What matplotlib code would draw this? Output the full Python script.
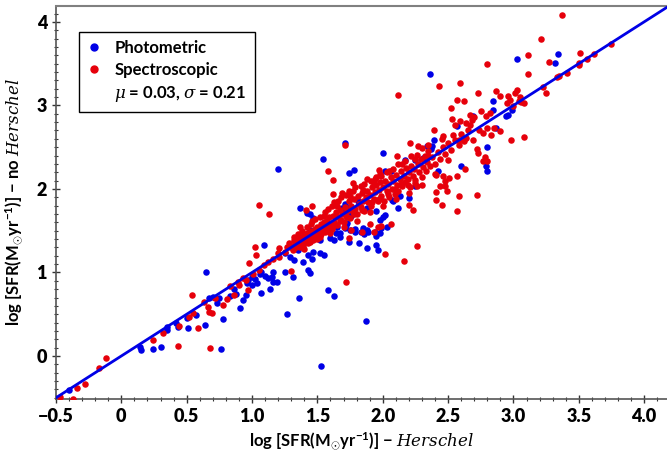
import matplotlib
matplotlib.use("Agg")
import matplotlib.pyplot as plt
from matplotlib.lines import Line2D
from matplotlib.ticker import MultipleLocator

# photometric redshifts (blue)
phot = [(-0.40, -0.41), (0.14, 0.11), (0.15, 0.07), (0.24, 0.08), (0.30, 0.11),
        (0.35, 0.35), (0.35, 0.31), (0.42, 0.39), (0.43, 0.35), (0.50, 0.45),
        (0.51, 0.33), (0.57, 0.49), (0.64, 0.37), (0.65, 1.01), (0.67, 0.69),
        (0.70, 0.71), (0.73, 0.63), (0.75, 0.69), (0.78, 0.44), (0.76, 0.08),
        (0.83, 0.72), (0.86, 0.80), (0.88, 0.74), (0.91, 0.57), (0.93, 0.67),
        (0.95, 0.73), (0.96, 0.87), (0.97, 0.91), (1.00, 0.94), (1.00, 0.85),
        (1.02, 0.92), (1.04, 0.87), (1.06, 0.98), (1.07, 1.01), (1.07, 0.76),
        (1.09, 1.33), (1.10, 0.96), (1.12, 0.93), (1.14, 0.80), (1.15, 0.94),
        (1.16, 0.89), (1.16, 1.00), (1.19, 0.89), (1.20, 2.24), (1.25, 1.01),
        (1.25, 1.23), (1.27, 0.50), (1.29, 1.19), (1.31, 0.95), (1.32, 1.15),
        (1.35, 1.27), (1.36, 0.70), (1.37, 1.77), (1.39, 1.12), (1.42, 1.71),
        (1.43, 1.03), (1.43, 1.21), (1.44, 0.99), (1.44, 1.51), (1.44, 1.70),
        (1.46, 1.16), (1.47, 1.25), (1.47, 1.65), (1.48, 1.43), (1.52, 1.23),
        (1.52, 1.39), (1.53, -0.12), (1.54, 2.36), (1.55, 1.21), (1.58, 0.79),
        (1.60, 1.41), (1.63, 0.72), (1.63, 1.39), (1.64, 1.47), (1.65, 1.55),
        (1.67, 1.43), (1.67, 1.47), (1.69, 1.77), (1.70, 1.75), (1.71, 2.55),
        (1.71, 1.53), (1.71, 1.82), (1.72, 1.57), (1.72, 1.78), (1.73, 1.59),
        (1.74, 1.36), (1.74, 2.19), (1.75, 1.51), (1.75, 1.73), (1.76, 1.67),
        (1.78, 2.23), (1.79, 1.48), (1.79, 1.52), (1.81, 1.85), (1.82, 1.35),
        (1.83, 1.49), (1.85, 1.53), (1.86, 1.46), (1.87, 0.42), (1.88, 1.29),
        (1.88, 1.51), (1.88, 1.77), (1.89, 1.49), (1.94, 1.48), (1.95, 1.74),
        (1.95, 1.44), (1.95, 1.33), (1.96, 1.27), (1.98, 1.47), (1.98, 1.63),
        (1.99, 1.53), (2.00, 2.43), (2.00, 1.66), (2.02, 2.21), (2.02, 1.69),
        (2.03, 1.55), (2.06, 2.21), (2.07, 1.87), (2.08, 1.85), (2.12, 1.77),
        (2.13, 1.91), (2.17, 2.35), (2.20, 1.89), (2.25, 2.35), (2.25, 2.04),
        (2.31, 2.37), (2.34, 2.51), (2.36, 3.38), (2.37, 2.48), (2.38, 2.51),
        (2.39, 2.59), (2.42, 2.21), (2.57, 2.75), (2.60, 2.28), (2.69, 2.87),
        (2.79, 2.28), (2.80, 2.21), (2.80, 2.50), (2.84, 3.05), (2.84, 2.95),
        (2.87, 2.73), (2.94, 2.87), (2.96, 2.89), (2.99, 2.95), (3.03, 3.56),
        (3.32, 3.51), (3.34, 3.62)]

# spectroscopic redshifts (red)
spec = [(-0.47, -0.49), (-0.37, -0.51), (-0.34, -0.38), (-0.28, -0.33), (-0.17, -0.14),
        (-0.12, -0.02), (0.24, 0.19), (0.32, 0.27), (0.43, 0.12), (0.44, 0.36),
        (0.52, 0.47), (0.55, 0.51), (0.54, 0.73), (0.59, 0.34), (0.63, 0.65),
        (0.66, 0.59), (0.67, 0.53), (0.69, 0.51), (0.68, 0.10), (0.72, 0.69),
        (0.78, 0.61), (0.81, 0.68), (0.83, 0.84), (0.86, 0.73), (0.89, 0.89),
        (0.90, 0.85), (0.93, 0.93), (0.95, 0.91), (0.97, 0.79), (0.98, 1.11),
        (1.01, 0.98), (1.02, 1.30), (1.03, 1.21), (1.05, 1.81), (1.05, 1.03),
        (1.09, 1.09), (1.12, 1.13), (1.13, 1.70), (1.16, 1.16), (1.20, 1.23),
        (1.21, 1.19), (1.21, 1.29), (1.25, 1.25), (1.27, 1.31), (1.28, 1.35),
        (1.29, 1.31), (1.30, 1.02), (1.32, 1.39), (1.37, 1.55), (1.41, 1.75),
        (1.46, 1.79), (1.58, 2.21), (1.62, 1.94), (1.62, 2.11), (1.69, 1.95),
        (1.71, 2.53), (1.72, 0.89), (1.74, 1.97), (1.74, 1.41), (1.76, 1.51),
        (1.77, 2.07), (1.84, 1.49), (1.88, 2.12), (1.90, 1.58), (1.93, 2.07),
        (1.93, 1.49), (1.96, 1.55), (1.97, 2.23), (1.99, 2.15), (1.99, 1.56),
        (2.02, 1.22), (2.06, 1.58), (2.11, 2.39), (2.12, 3.13), (2.16, 1.14),
        (2.20, 1.81), (2.21, 2.55), (2.23, 1.75), (2.25, 2.07), (2.26, 1.32),
        (2.26, 2.04), (2.26, 2.41), (2.27, 2.51), (2.30, 2.49), (2.35, 2.39),
        (2.39, 2.71), (2.41, 1.96), (2.41, 1.87), (2.41, 2.17), (2.43, 3.23),
        (2.44, 2.04), (2.45, 1.81), (2.46, 2.15), (2.46, 2.63), (2.48, 2.03),
        (2.48, 2.09), (2.49, 1.97), (2.51, 2.13), (2.52, 2.97), (2.53, 2.84),
        (2.54, 2.65), (2.55, 2.76), (2.57, 2.16), (2.57, 3.07), (2.57, 1.73),
        (2.58, 1.91), (2.58, 2.59), (2.59, 2.81), (2.59, 3.27), (2.62, 3.05),
        (2.63, 2.24), (2.64, 2.79), (2.64, 2.61), (2.67, 2.76), (2.67, 2.89),
        (2.68, 2.83), (2.69, 2.58), (2.70, 2.86), (2.72, 2.48), (2.72, 1.93),
        (2.73, 2.43), (2.73, 3.15), (2.74, 2.71), (2.75, 2.93), (2.77, 2.67),
        (2.77, 2.33), (2.78, 2.38), (2.79, 2.87), (2.80, 2.33), (2.80, 2.73),
        (2.80, 3.50), (2.82, 2.91), (2.83, 2.65), (2.85, 2.73), (2.87, 3.17),
        (2.90, 3.11), (2.90, 2.69), (2.95, 3.03), (2.96, 3.11), (2.97, 3.07),
        (2.98, 2.58), (3.00, 2.99), (3.01, 3.15), (3.03, 3.18), (3.04, 3.05),
        (3.05, 3.10), (3.06, 3.04), (3.08, 2.62), (3.08, 3.03), (3.11, 3.37),
        (3.11, 3.60), (3.21, 3.80), (3.23, 3.22), (3.25, 3.15), (3.27, 3.52),
        (3.33, 3.34), (3.35, 3.35), (3.37, 4.08), (3.41, 3.39), (3.50, 3.51),
        (3.50, 3.48), (3.51, 3.63), (3.56, 3.55), (3.62, 3.62), (3.75, 3.73),
        # dense part of the relation
        (1.30, 1.32), (1.31, 1.27), (1.33, 1.36), (1.34, 1.30), (1.35, 1.33),
        (1.36, 1.40), (1.37, 1.31), (1.38, 1.37), (1.39, 1.44), (1.40, 1.36),
        (1.41, 1.40), (1.42, 1.47), (1.43, 1.35), (1.44, 1.42), (1.45, 1.50),
        (1.46, 1.44), (1.47, 1.39), (1.48, 1.52), (1.49, 1.46), (1.50, 1.55),
        (1.51, 1.48), (1.52, 1.43), (1.53, 1.58), (1.54, 1.52), (1.55, 1.60),
        (1.56, 1.49), (1.57, 1.62), (1.58, 1.55), (1.59, 1.66), (1.60, 1.58),
        (1.61, 1.52), (1.62, 1.68), (1.63, 1.61), (1.64, 1.72), (1.65, 1.57),
        (1.66, 1.66), (1.67, 1.75), (1.68, 1.63), (1.69, 1.70), (1.70, 1.60),
        (1.71, 1.78), (1.72, 1.68), (1.73, 1.74), (1.74, 1.85), (1.75, 1.65),
        (1.76, 1.80), (1.77, 1.72), (1.78, 1.88), (1.79, 1.76), (1.80, 1.70),
        (1.81, 1.92), (1.82, 1.82), (1.83, 1.78), (1.84, 1.95), (1.85, 1.86),
        (1.86, 1.74), (1.87, 1.90), (1.88, 1.98), (1.89, 1.84), (1.90, 1.93),
        (1.91, 1.80), (1.92, 2.02), (1.93, 1.88), (1.94, 1.96), (1.95, 2.05),
        (1.96, 1.86), (1.97, 1.99), (1.98, 2.08), (1.99, 1.92), (2.00, 2.02),
        (2.01, 1.85), (2.02, 2.10), (2.03, 1.97), (2.04, 2.06), (2.05, 1.90),
        (2.06, 2.14), (2.07, 2.00), (2.08, 2.09), (2.09, 1.94), (2.10, 2.17),
        (2.11, 2.05), (2.12, 1.98), (2.13, 2.12), (2.14, 2.22), (2.15, 2.03),
        (2.16, 2.15), (2.17, 2.08), (2.18, 2.25), (2.19, 2.12), (2.20, 2.20),
        (2.21, 2.02), (2.22, 2.28), (2.23, 2.16), (2.24, 2.24), (2.25, 2.11),
        (2.27, 2.30), (2.28, 2.20), (2.29, 2.36), (2.30, 2.14), (2.31, 2.26),
        (2.32, 2.40), (2.33, 2.22), (2.34, 2.32), (2.35, 2.45), (2.36, 2.28),
        (2.38, 2.38), (2.40, 2.30), (2.42, 2.44), (2.44, 2.36), (2.46, 2.50),
        (2.48, 2.42), (2.50, 2.55), (2.52, 2.47), (2.55, 2.58), (2.58, 2.52),
        (2.60, 2.66), (2.62, 2.57), (2.65, 2.70),
        (1.35, 1.46), (1.40, 1.28), (1.45, 1.58), (1.50, 1.40), (1.55, 1.68),
        (1.60, 1.47), (1.65, 1.80), (1.70, 1.54), (1.75, 1.92), (1.80, 1.62),
        (1.85, 1.99), (1.90, 1.72), (1.95, 2.14), (2.00, 1.80), (2.05, 2.22),
        (2.10, 1.88), (2.15, 2.30), (2.20, 1.95), (2.25, 2.36), (2.30, 2.05),
        (2.35, 2.52), (2.40, 2.18), (2.45, 2.60), (2.50, 2.35),
        (1.32, 1.43), (1.38, 1.50), (1.42, 1.55), (1.46, 1.62), (1.48, 1.64),
        (1.52, 1.66), (1.56, 1.72), (1.58, 1.76), (1.61, 1.80), (1.63, 1.84),
        (1.66, 1.86), (1.68, 1.90), (1.72, 1.93), (1.77, 1.98), (1.79, 2.02),
        (1.83, 2.04), (1.86, 2.06), (1.91, 2.09), (1.94, 2.12), (1.98, 2.18),
        (2.03, 2.20), (2.08, 2.24), (2.12, 2.30), (2.17, 2.34), (2.22, 2.40),
        (1.39, 1.32), (1.44, 1.37), (1.53, 1.46), (1.57, 1.52), (1.62, 1.56),
        (1.67, 1.62), (1.73, 1.66), (1.78, 1.70), (1.84, 1.75), (1.92, 1.84),
        (1.97, 1.88), (2.04, 1.94), (2.09, 2.00), (2.14, 2.06), (2.19, 2.05)]

# one-to-one fit line
fit_x = [-0.6, 4.3]
fit_y = [-0.6, 4.3]

labels = ["Photometric", "Spectroscopic", r"$\mu$ = 0.03, $\sigma$ = 0.21"]

plt.rcParams['font.family'] = ['Lato', 'DejaVu Sans']
plt.rcParams['font.weight'] = 'bold'
plt.rcParams['mathtext.fontset'] = 'custom'
plt.rcParams['mathtext.rm'] = 'Lato:bold'
plt.rcParams['mathtext.bf'] = 'Lato:bold'
plt.rcParams['mathtext.it'] = 'DejaVu Serif:style=italic:weight=normal'
plt.rcParams['axes.unicode_minus'] = True

blue = '#0000e6'
red = '#e6000b'

fig = plt.figure(figsize=(6.67, 4.54), dpi=100)
ax = fig.add_axes([56 / 667, 1 - 399 / 454, 1 - 56 / 667, (399 - 6) / 454])

px, py = zip(*phot)
sx, sy = zip(*spec)
ax.scatter(px, py, s=22, color=blue, linewidths=0, zorder=2)
ax.scatter(sx, sy, s=22, color=red, linewidths=0, zorder=3)
ax.plot(fit_x, fit_y, color=blue, lw=2.0, zorder=4)

ax.set_xlim(-0.5, 4.175)
ax.set_ylim(-0.515, 4.19)
ax.set_xticks([-0.5, 0, 0.5, 1.0, 1.5, 2.0, 2.5, 3.0, 3.5, 4.0])
ax.set_xticklabels(["\u22120.5", "0", "0.5", "1.0", "1.5", "2.0", "2.5", "3.0", "3.5", "4.0"])
ax.set_yticks([0, 1, 2, 3, 4])
ax.xaxis.set_minor_locator(MultipleLocator(0.1))
ax.yaxis.set_minor_locator(MultipleLocator(0.1))
ax.tick_params(which='both', direction='inout', top=False, right=False,
               colors='#333333', labelcolor='black', labelsize=13)
ax.tick_params(which='major', length=6, width=1.0)
ax.tick_params(which='minor', length=3, width=0.8)
for lab in ax.get_xticklabels() + ax.get_yticklabels():
    lab.set_fontweight('heavy')

ax.spines['right'].set_visible(False)
ax.spines['top'].set_color('#808080')
ax.spines['top'].set_linewidth(1.5)
ax.spines['left'].set_color('#555555')
ax.spines['bottom'].set_color('#555555')
ax.spines['left'].set_linewidth(1.2)
ax.spines['bottom'].set_linewidth(1.2)

ax.set_xlabel(r"log [SFR(M$_{\odot}$yr$^{-1}$)] $-$ $Herschel$", fontsize=12, fontweight='bold', labelpad=4)
ax.set_ylabel(r"log [SFR(M$_{\odot}$yr$^{-1}$)] $-$ no $Herschel$", fontsize=12, fontweight='bold', labelpad=8)

handles = [Line2D([], [], ls='none', marker='o', ms=5, color=blue),
           Line2D([], [], ls='none', marker='o', ms=5, color=red),
           Line2D([], [], ls='none', marker=None)]
leg = ax.legend(handles, labels, loc='upper left', bbox_to_anchor=(0.038, 0.934),
                borderaxespad=0, fancybox=False, edgecolor='black', framealpha=1,
                handlelength=0.8, handletextpad=0.8, borderpad=0.5, labelspacing=0.35,
                prop={'weight': 'bold', 'size': 12})
leg.get_frame().set_linewidth(1.0)

fig.savefig("out.png", dpi=100)
